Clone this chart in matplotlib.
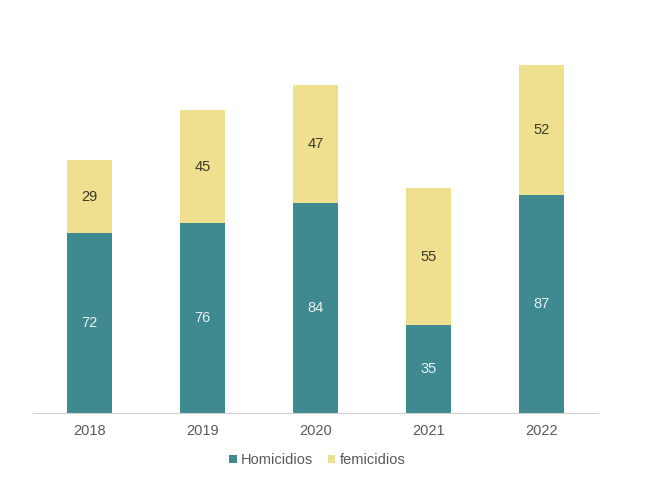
import matplotlib
matplotlib.use("Agg")
import matplotlib.pyplot as plt

plt.rcParams["font.family"] = ["Liberation Sans", "DejaVu Sans"]

years = ["2018", "2019", "2020", "2021", "2022"]
homicidios = [72, 76, 84, 35, 87]
femicidios = [29, 45, 47, 55, 52]

teal = "#3f8990"
yellow = "#eee08f"
grey = "#595959"

fig = plt.figure(figsize=(6.5, 4.87), dpi=100)
ax = fig.add_axes([0.051, 0.152, 0.869, 0.770])

x = range(len(years))
b1 = ax.bar(x, homicidios, width=0.4, color=teal, label="Homicidios")
b2 = ax.bar(x, femicidios, width=0.4, bottom=homicidios, color=yellow, label="femicidios")

for i in x:
    ax.text(i, homicidios[i] / 2, str(homicidios[i]), ha="center", va="center",
            color="#e8f2f2", fontsize=10.5)
    ax.text(i, homicidios[i] + femicidios[i] / 2, str(femicidios[i]), ha="center",
            va="center", color="#3b3b2a", fontsize=10.5)

ax.set_xlim(-0.5, 4.5)
ax.set_ylim(0, 150)
ax.set_xticks(list(x))
ax.set_xticklabels(years, fontsize=10.5, color=grey)
ax.tick_params(axis="x", length=0, pad=8)
ax.set_yticks([])
for s in ["top", "right", "left"]:
    ax.spines[s].set_visible(False)
ax.spines["bottom"].set_color("#d0d0d0")

leg = fig.legend(handles=[b1, b2], loc="center", bbox_to_anchor=(0.488, 0.055),
                 ncol=2, frameon=False, fontsize=10.5, handlelength=0.5,
                 handleheight=0.5, handletextpad=0.3, columnspacing=1.0)
for t in leg.get_texts():
    t.set_color(grey)

fig.savefig("out.png", dpi=100, facecolor="white")
